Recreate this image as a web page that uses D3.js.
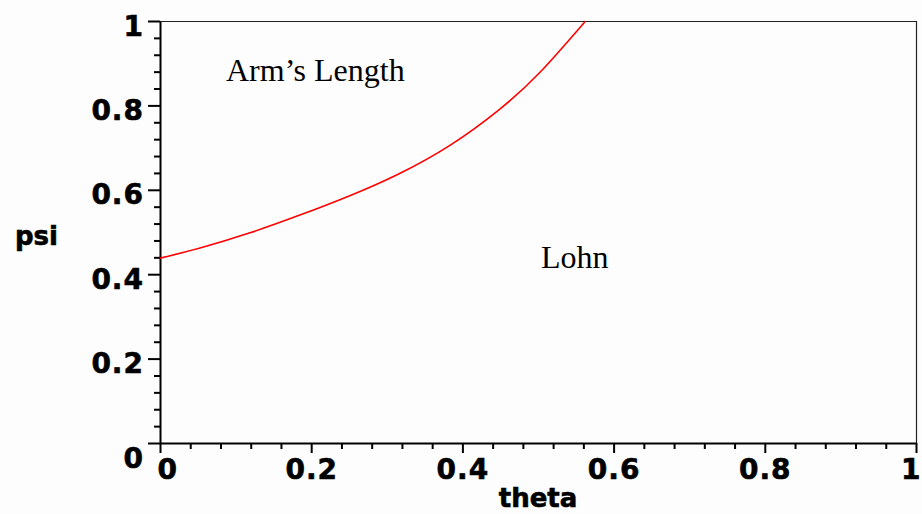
<!DOCTYPE html>
<html>
<head>
<meta charset="utf-8">
<script src="https://cdnjs.cloudflare.com/ajax/libs/d3/7.8.5/d3.min.js"></script>
<style>
  body { margin: 0; background: #fdfdfd; }
  svg { display: block; }
  .tick text { font-family: "DejaVu Sans", sans-serif; font-weight: bold; font-size: 28px; letter-spacing: 1px; fill: #000; stroke: #000; stroke-width: 0.6px; }
  .axisLabel { font-family: "DejaVu Sans", sans-serif; font-weight: bold; font-size: 26px; stroke: #000; stroke-width: 0.6px; }
  .region { font-family: "Liberation Serif", "Times New Roman", serif; font-size: 32px; }
</style>
</head>
<body>
<svg id="chart" width="922" height="514"></svg>
<script>
// boundary curve
var theta = [0, 0.053, 0.119, 0.185, 0.251, 0.315, 0.384, 0.45, 0.503, 0.563]
var psi   = [0.438, 0.462, 0.498, 0.54, 0.586, 0.637, 0.706, 0.792, 0.879, 1]

var majorTicks = [0, 0.2, 0.4, 0.6, 0.8, 1]
var tickLabels = ["0", "0.2", "0.4", "0.6", "0.8", "1"]
var minorTicks = d3.range(0, 1.0001, 0.04).filter(function(v) { return Math.abs(v * 5 - Math.round(v * 5)) > 1e-6 })

var svg = d3.select("#chart")
// plot box (not "top": that name is taken by window.top)
var plotL = 160, plotR = 916, plotT = 21, plotB = 443

var x = d3.scaleLinear().domain([0, 1]).range([plotL, plotR])
var y = d3.scaleLinear().domain([0, 1]).range([plotB, plotT])

// frame, top and right sides
svg.append("path")
    .attr("d", "M" + plotL + "," + (plotT + 0.5) + "H" + (plotR + 0.5) + "V" + plotB)
    .attr("fill", "none")
    .attr("stroke", "#222")
    .attr("stroke-width", 1.2)

// minor ticks
svg.append("g")
    .attr("transform", "translate(0," + plotB + ")")
    .call(d3.axisBottom(x).tickValues(minorTicks).tickSize(6).tickFormat(""))
    .call(function(g) { g.select(".domain").remove() })
svg.append("g")
    .attr("transform", "translate(" + plotL + ",0)")
    .call(d3.axisLeft(y).tickValues(minorTicks).tickSize(6).tickFormat(""))
    .call(function(g) { g.select(".domain").remove() })

// major ticks + labels
var xAxis = svg.append("g")
    .attr("class", "x axis")
    .attr("transform", "translate(0," + plotB + ")")
    .call(d3.axisBottom(x).tickValues(majorTicks).tickSize(10).tickSizeOuter(0)
      .tickFormat(function(d, i) { return tickLabels[i] }))
xAxis.selectAll(".tick text").attr("y", 16).attr("dy", "0.71em")
xAxis.selectAll(".tick text").filter(function(d) { return d === 0 })
    .attr("text-anchor", "start").attr("x", -3)
// last label sits against the right edge
xAxis.selectAll(".tick text").filter(function(d) { return d === 1 })
    .attr("text-anchor", "end").attr("x", 5)

var yAxis = svg.append("g")
    .attr("class", "y axis")
    .attr("transform", "translate(" + plotL + ",0)")
    .call(d3.axisLeft(y).tickValues(majorTicks).tickSize(12).tickSizeOuter(0)
      .tickFormat(function(d, i) { return tickLabels[i] }))
yAxis.selectAll(".tick text").attr("x", -16).attr("dy", "14px")
yAxis.selectAll(".tick text").filter(function(d) { return d === 0 }).attr("dy", "24px")

svg.selectAll(".domain").attr("stroke-width", 2).attr("stroke", "#000")
svg.selectAll(".tick line").attr("stroke-width", 2).attr("stroke", "#000")

// curve
var line = d3.line()
    .x(function(d, i) { return x(theta[i]) })
    .y(function(d, i) { return y(psi[i]) })
    .curve(d3.curveNatural)

svg.append("path")
    .datum(theta)
    .attr("d", line)
    .attr("fill", "none")
    .attr("stroke", "#ff0000")
    .attr("stroke-width", 1.6)

// axis titles
svg.append("text").attr("class", "axisLabel")
    .attr("x", x(0.5)).attr("y", 507)
    .attr("text-anchor", "middle")
    .text("theta")
svg.append("text").attr("class", "axisLabel")
    .attr("x", 15).attr("y", 245)
    .text("psi")

// region labels
svg.append("text").attr("class", "region")
    .attr("x", 226).attr("y", 81)
    .text("Arm’s Length")
svg.append("text").attr("class", "region")
    .attr("x", 541).attr("y", 268)
    .text("Lohn")
</script>
</body>
</html>
